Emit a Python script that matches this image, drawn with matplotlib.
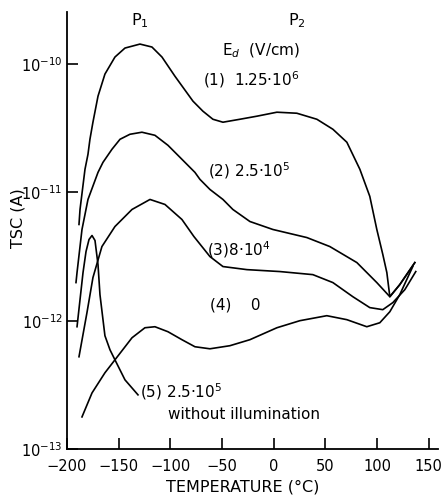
import matplotlib
matplotlib.use("Agg")
import matplotlib.pyplot as plt
import numpy as np
from matplotlib.ticker import FixedLocator, NullLocator, LogFormatterMathtext

# curves: temperature (degC) and log10 of TSC (A)
c1_T = [-188.4, -187.4, -182.6, -179.7, -177.8, -174.9, -170.0, -163.3, -153.6, -143.9, -129.4, -117.8,
        -108.1, -95.6, -78.1, -68.5, -58.8, -49.1, -32.7, -16.2, 3.1, 22.4, 41.8, 57.3, 70.8, 83.4,
        93.0, 99.8, 105.6, 109.5, 112.4, 122.0, 136.6]
c1_logI = [-11.25, -11.133, -10.82, -10.703, -10.586, -10.453, -10.25, -10.078, -9.945, -9.875, -9.844, -9.867,
           -9.945, -10.094, -10.289, -10.367, -10.43, -10.453, -10.43, -10.406, -10.375, -10.383, -10.43, -10.508, -10.609, -10.82,
           -11.031, -11.289, -11.484, -11.625, -11.813, -11.719, -11.547]

c2_T = [-191.3, -190.3, -185.5, -179.7, -170.0, -165.2, -156.5, -148.7, -139.1, -127.5, -114.9, -102.3,
        -88.8, -76.2, -71.4, -61.7, -49.1, -39.5, -23.0, -0.8, 32.1, 54.3, 80.5, 99.8, 112.4, 122.0, 136.6]
c2_logI = [-11.703, -11.625, -11.289, -11.055, -10.844, -10.766, -10.664, -10.586, -10.547, -10.531, -10.555, -10.633,
           -10.742, -10.844, -10.898, -10.977, -11.055, -11.133, -11.227, -11.289, -11.352, -11.422, -11.547, -11.703, -11.813, -11.719, -11.547]

c3_T = [-188.4, -180.7, -174.9, -166.2, -153.6, -137.1, -119.7, -105.2, -88.8, -77.2, -61.7, -49.1,
        -25.9, 6.0, 37.9, 57.3, 76.6, 93.0, 105.6, 115.3, 126.9, 137.5]
c3_logI = [-12.281, -11.938, -11.664, -11.422, -11.266, -11.133, -11.055, -11.094, -11.211, -11.344, -11.5, -11.578,
           -11.602, -11.617, -11.641, -11.703, -11.813, -11.898, -11.914, -11.859, -11.758, -11.617]

c4_T = [-185.5, -175.8, -163.3, -153.6, -137.1, -124.6, -114.9, -102.3, -88.8, -76.2, -61.7, -42.4,
        -23.0, 3.1, 25.3, 51.4, 70.8, 90.1, 102.7, 112.4, 122.0, 134.6]
c4_logI = [-12.75, -12.563, -12.406, -12.305, -12.133, -12.055, -12.047, -12.086, -12.148, -12.203, -12.219, -12.195,
           -12.148, -12.055, -12.0, -11.961, -11.992, -12.047, -12.016, -11.93, -11.797, -11.578]

c5_T = [-190.3, -187.4, -184.5, -181.6, -178.7, -175.8, -172.9, -170.0, -168.1, -163.3, -158.4, -153.6, -143.9, -131.3]
c5_logI = [-12.047, -11.836, -11.625, -11.461, -11.367, -11.336, -11.375, -11.563, -11.797, -12.117, -12.227, -12.305, -12.461, -12.578]

curves = [(c1_T, c1_logI), (c2_T, c2_logI), (c3_T, c3_logI), (c4_T, c4_logI), (c5_T, c5_logI)]

x_ticks = [-200, -150, -100, -50, 0, 50, 100, 150]
y_ticks = [1e-13, 1e-12, 1e-11, 1e-10]

fig = plt.figure(figsize=(4.45, 4.95), dpi=100)
ax = fig.add_axes([67 / 445, 1 - 449 / 495, 371 / 445, 437 / 495])

for T, logI in curves:
    ax.plot(T, 10 ** np.array(logI), color="black", lw=1.2, solid_joinstyle="round")

ax.set_yscale("log")
ax.set_xlim(-200, 159)
ax.set_ylim(1e-13, 10 ** -9.594)
ax.xaxis.set_major_locator(FixedLocator(x_ticks))
ax.yaxis.set_major_locator(FixedLocator(y_ticks))
ax.yaxis.set_minor_locator(NullLocator())
ax.yaxis.set_major_formatter(LogFormatterMathtext())

for s in ["top", "right"]:
    ax.spines[s].set_visible(False)
for s in ["left", "bottom"]:
    ax.spines[s].set_linewidth(1.3)

ax.tick_params(axis="both", direction="in", length=8, width=1.2, labelsize=10.5)
ax.tick_params(axis="x", pad=7)
ax.tick_params(axis="y", pad=3)

# annotations
kw = dict(fontsize=11, color="black", va="baseline")
ax.text(-129, 10 ** -9.70, "P$_1$", ha="center", fontsize=11.5, va="baseline")
ax.text(22, 10 ** -9.70, "P$_2$", ha="center", fontsize=11.5, va="baseline")
ax.text(-50, 10 ** -9.93, "E$_d$  (V/cm)", ha="left", **kw)
ax.text(-68.5, 10 ** -10.17, "(1)  1.25·10$^6$", ha="left", **kw)
ax.text(-63.6, 10 ** -10.88, "(2) 2.5·10$^5$", ha="left", **kw)
ax.text(-64.6, 10 ** -11.49, "(3)8·10$^4$", ha="left", **kw)
ax.text(-61.7, 10 ** -11.91, "(4)    0", ha="left", **kw)
ax.text(-129.4, 10 ** -12.60, "(5) 2.5·10$^5$", ha="left", **kw)
ax.text(-102.3, 10 ** -12.77, "without illumination", ha="left", **kw)

fig.text(18 / 445, 1 - 218 / 495, "TSC (A)", rotation=90, ha="center", va="center", fontsize=11.5)
fig.text(243 / 445, 1 - 487 / 495, "TEMPERATURE (°C)", ha="center", va="center", fontsize=11.5)

fig.savefig("out.png", dpi=100)
